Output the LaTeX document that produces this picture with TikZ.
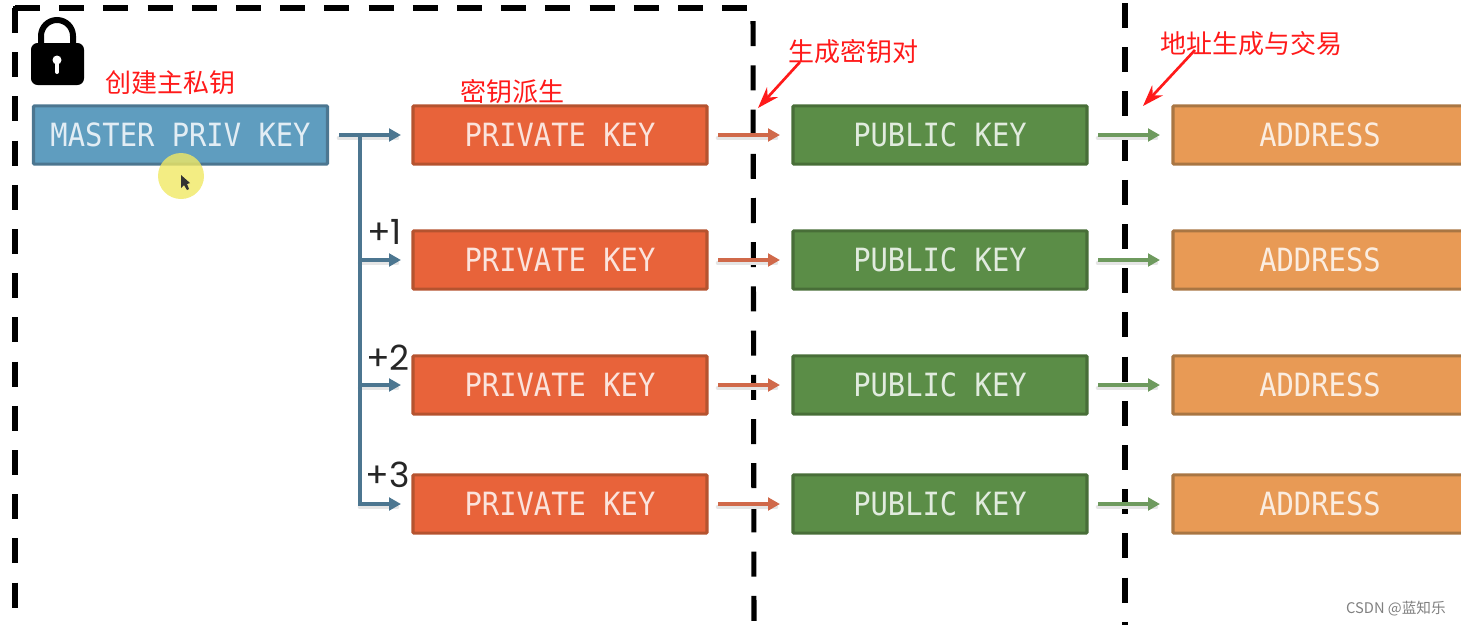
\documentclass[tikz,border=0pt]{standalone}
\usepackage{fontspec}
\setmainfont{DejaVu Sans Mono}
\newfontfamily\keyfont[FakeStretch=0.9]{DejaVu Sans Mono}
\newfontfamily\cjk{Noto Sans CJK SC}
\newfontfamily\plusfont{Poppins}
\usetikzlibrary{arrows.meta,calc}
\definecolor{bluefill}{HTML}{5F9DBF}
\definecolor{blueline}{HTML}{4C7690}
\definecolor{redfill}{HTML}{E8633A}
\definecolor{redline}{HTML}{B5532F}
\definecolor{greenfill}{HTML}{5B8D47}
\definecolor{greenline}{HTML}{486E38}
\definecolor{orangefill}{HTML}{E89A55}
\definecolor{orangeline}{HTML}{A97643}
\definecolor{redarrow}{HTML}{D0694A}
\definecolor{greenarrow}{HTML}{6E9A5E}
\definecolor{annot}{HTML}{FF1A1A}
\tikzset{
  keybox/.style={draw=#1line,fill=#1fill,line width=2.3pt,minimum width=220.5pt,minimum height=43.6pt,
    inner sep=0pt,text=white!82!#1fill,font=\keyfont\fontsize{24}{24}\selectfont,rounded corners=0.6pt},
  fence/.style={line width=3.8pt,black,dash pattern=on 18.75pt off 14.4pt},
  link/.style={line width=2.8pt,draw=#1,-{Triangle[length=9pt,width=9.5pt]}},
  shade/.style={line width=3.5pt,black!10,line cap=round},
  note/.style={text=annot,font=\cjk\fontsize{19.5}{19.5}\selectfont,inner sep=0pt},
  step label/.style={font=\plusfont\fontsize{26}{26}\selectfont,text=black!85,inner sep=0pt},
  callout/.style={annot,line width=2pt,-{Stealth[length=16pt,width=11pt]}}
}
\begin{document}
\begin{tikzpicture}[x=0.75pt,y=-0.75pt]
\useasboundingbox (0,0) rectangle (1461,625);
% dashed fences
\coordinate (fa) at (15,625); \coordinate (fb) at (15,8); \coordinate (fc) at (753,8); \coordinate (fd) at (754,625);
\coordinate (ga) at (1125,3); \coordinate (gb) at (1125,625);
\draw[fence] (fb) -- (fa);
\draw[fence] (fb) -- (fc);
\fill[black] (12.5,5.5) rectangle (17.5,10.5);
\draw[fence,dash phase=23.25pt] (fc) -- (fd);
\draw[fence] (ga) -- (gb);
% lock
\draw[line width=4.5pt,black] (41,46) -- (41,36) arc[start angle=180,end angle=360,radius=16] -- (73,46);
\fill[black,rounded corners=5pt] (31,43) rectangle (84,85);
\fill[white] (57,60) circle (4.5);
\draw[white,line width=3pt,line cap=round] (57,60) -- (57,72);
% boxes
\node[keybox=blue] (m) at (180.5,135) {MASTER PRIV KEY};
\foreach \n/\y in {1/135,2/260,3/385,4/504}{
  \node[keybox=red] (p\n) at (560,\y) {PRIVATE KEY};
  \node[keybox=green] (u\n) at (940,\y) {PUBLIC KEY};
  \node[keybox=orange] (a\n) at (1320,\y) {ADDRESS};
}
% tree
\coordinate (tt) at (360,135);
\coordinate (mo) at (339,135);
\coordinate (to1) at (401,135);
\foreach \n/\y in {2/260,3/385,4/504}{ \coordinate (to\n) at (401,\y); \coordinate (tb\n) at (360,\y); }
\draw[shade] ($(mo)+(0,3)$) -- ($(to1)+(-4,3)$);
\foreach \n in {2,3,4}{ \draw[shade] ($(tb\n)+(0,3)$) -- ($(to\n)+(-4,3)$); }
\draw[line width=3pt,blueline] (tt) -- (tb4);
\draw[link=blueline] (mo) -- (to1);
\foreach \n in {2,3,4}{ \draw[link=blueline] ($(tb\n)+(-2,0)$) -- (to\n); }
% horizontal links
\foreach \n/\y in {1/135,2/260,3/385,4/504}{
  \coordinate (ra\n) at (718,\y); \coordinate (rb\n) at (780,\y);
  \coordinate (ga\n) at (1098,\y); \coordinate (gb\n) at (1160,\y);
  \draw[shade] ($(ra\n)+(0,3)$) -- ($(rb\n)+(-4,3)$);
  \draw[shade] ($(ga\n)+(0,3)$) -- ($(gb\n)+(-4,3)$);
  \draw[link=redarrow] (ra\n) -- (rb\n);
  \draw[link=greenarrow] (ga\n) -- (gb\n);
}
% step labels
\node[step label,anchor=center] (s1) at (384.5,232) {+1};
\node[step label,anchor=center] (s2) at (388,358) {+2};
\node[step label,anchor=center] (s3) at (388,475) {+3};
% pointer highlight
\fill[fill={rgb,255:red,240;green,232;blue,100},opacity=0.8] (181,176) circle (23);
\fill[black!80] (181,175) -- (181,188) -- (184,185) -- (187,190) -- (189,189) -- (187,184) -- (190,183) -- cycle;
% annotations
\node[note] (n1) at (170.5,82.5) {创建主私钥};
\node[note] (n2) at (512,91.5) {密钥派生};
\node[note] (n3) at (853,51.5) {生成密钥对};
\node[note] (n4) at (1251.5,43.5) {地址生成与交易};
\coordinate (c1) at (758,108);
\coordinate (c2) at (1143,106);
\coordinate (d1) at (800,62);
\coordinate (d2) at (1195,50);
\draw[callout] (d1) -- (c1);
\draw[callout] (d2) -- (c2);
\node[text=black!50,font=\cjk\fontsize{11}{11}\selectfont,inner sep=0pt] (w) at (1396,609) {CSDN @蓝知乐};
\end{tikzpicture}
\end{document}
